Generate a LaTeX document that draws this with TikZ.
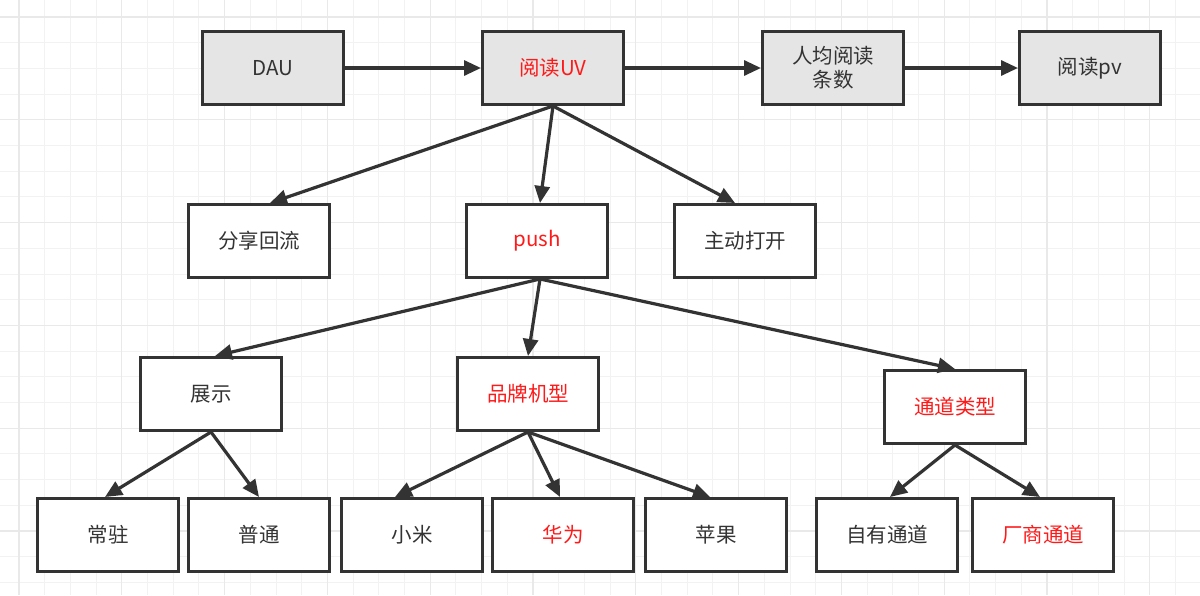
\documentclass[tikz,border=0pt]{standalone}
\usepackage{fontspec}
\setmainfont{Noto Sans CJK SC}
\usetikzlibrary{arrows.meta}
\definecolor{ln}{HTML}{333333}
\definecolor{rd}{HTML}{FF1A1A}
\begin{document}
\begin{tikzpicture}[x=1pt,y=-1pt,
 box/.style={draw=ln,line width=3pt,minimum width=141pt,minimum height=73pt,inner sep=0pt,font=\fontsize{20.5}{24}\selectfont,text=ln,align=center,fill=white},
 gbox/.style={box,fill=gray!20},
 red/.style={text=rd},
 ar/.style={draw=ln,line width=3.2pt,-{Triangle[length=17pt,width=15pt]}}]
\useasboundingbox (0,0) rectangle (1200,595);
\fill[white] (0,0) rectangle (1200,595);
\foreach \i in {0,...,46}{\draw[gray!10,line width=1pt] ({19+\i*25.7},0) -- ++(0,595);}
\foreach \i in {0,...,23}{\draw[gray!10,line width=1pt] (0,{17+\i*25.7}) -- ++(1200,0);}
\foreach \i in {0,...,11}{\draw[gray!17,line width=1.2pt] ({19+4*\i*25.7},0) -- ++(0,595);}
\foreach \i in {0,...,5}{\draw[gray!17,line width=1.2pt] (0,{17+4*\i*25.7}) -- ++(1200,0);}
\node[gbox] (dau) at (273,68) {DAU};
\node[gbox,red] (uv) at (553,68) {阅读UV};
\node[gbox] (rj) at (833,68) {人均阅读\\条数};
\node[gbox] (pv) at (1090,68) {阅读pv};
\node[box] (fx) at (259,241) {分享回流};
\node[box,red] (push) at (537,241) {push};
\node[box] (zd) at (745,241) {主动打开};
\node[box] (zs) at (211,394) {展示};
\node[box,red] (pp) at (528,394) {品牌机型};
\node[box,red] (td) at (955,407) {通道类型};
\node[box] (cz) at (108,535) {常驻};
\node[box] (pt) at (259,535) {普通};
\node[box] (xm) at (412,535) {小米};
\node[box,red] (hw) at (563,535) {华为};
\node[box] (pg) at (716,535) {苹果};
\node[box] (zy) at (887,535) {自有通道};
\node[box,red] (cs) at (1043,535) {厂商通道};
\draw[ar] (dau.east) -- (uv.west);
\draw[ar] (uv.east) -- (rj.west);
\draw[ar] (rj.east) -- (pv.west);
\coordinate (u) at (553,106);
\draw[ar] (u) -- ([xshift=11pt]fx.north);
\draw[ar] (u) -- ([xshift=3pt]push.north);
\draw[ar] (u) -- ([xshift=-10pt]zd.north);
\coordinate (p) at (540,279);
\draw[ar] (p) -- ([xshift=4pt]zs.north);
\draw[ar] (p) -- (pp.north);
\draw[ar] (p) -- (td.north);
\draw[ar] (zs.south) -- ([xshift=-3pt]cz.north);
\draw[ar] (zs.south) -- (pt.north);
\draw[ar] (pp.south) -- ([xshift=-17pt]xm.north);
\draw[ar] (pp.south) -- ([xshift=-3pt]hw.north);
\draw[ar] (pp.south) -- ([xshift=-6pt]pg.north);
\draw[ar] (td.south) -- ([xshift=3pt]zy.north);
\draw[ar] (td.south) -- ([xshift=-3pt]cs.north);
\end{tikzpicture}
\end{document}
